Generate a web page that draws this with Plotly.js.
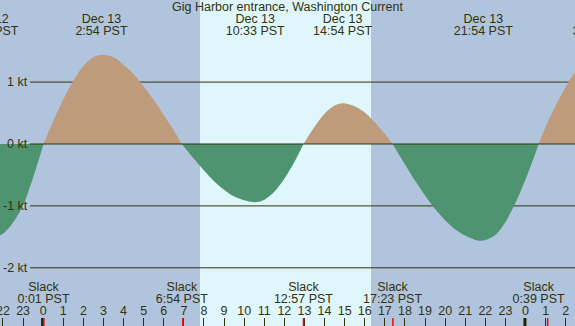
<!DOCTYPE html>
<html><head><meta charset="utf-8">
<script src="https://cdn.plot.ly/plotly-3.0.1.min.js"></script>
<style>html,body{margin:0;padding:0;background:#b0c4de;}#chart{width:575px;height:326px;}</style>
</head><body><div id="chart"></div>
<script>
// Hours relative to Dec 13 00:00 PST, current speed in knots
const hours = [-3.0,-2.5,-2.0,-1.5,-1.0,-0.5,0.017,0.5,1.0,1.5,2.0,2.5,2.9,3.5,4.0,4.5,5.0,5.5,6.0,6.5,6.9,
  7.5,8.0,8.5,9.0,9.5,10.0,10.55,11.0,11.5,12.0,12.5,12.95,13.5,14.0,14.5,14.9,15.5,16.0,16.5,17.0,17.383,
  18.0,18.5,19.0,19.5,20.0,20.5,21.0,21.5,21.9,22.5,23.0,23.5,24.0,24.5,24.65,25.0,25.5,26.0,26.5,27.0];
const knots = [-1.49,-1.50,-1.45,-1.27,-0.99,-0.54,0,0.37,0.72,1.02,1.26,1.40,1.44,1.40,1.28,1.13,0.93,0.71,0.47,0.22,0,
  -0.24,-0.43,-0.60,-0.74,-0.85,-0.91,-0.94,-0.90,-0.77,-0.56,-0.29,0,0.28,0.49,0.62,0.66,0.61,0.51,0.35,0.16,0,
  -0.33,-0.59,-0.83,-1.05,-1.23,-1.38,-1.48,-1.55,-1.56,-1.47,-1.26,-0.95,-0.57,-0.14,0,0.28,0.62,0.92,1.18,1.35];
const sunrise = 7.80, sunset = 16.31;
const maxTimes = [-2.7, 2.9, 10.55, 14.9, 21.9, 27.65];
const maxDates = ["Dec 12","Dec 13","Dec 13","Dec 13","Dec 13","Dec 14"];
const maxLabels = ["21:18 PST","2:54 PST","10:33 PST","14:54 PST","21:54 PST","3:39 PST"];
const slackTimes = [0.017, 6.9, 12.95, 17.383, 24.65];
const slackLabels = ["0:01 PST","6:54 PST","12:57 PST","17:23 PST","0:39 PST"];
const hourTicks = [-2,-1,0,1,2,3,4,5,6,7,8,9,10,11,12,13,14,15,16,17,18,19,20,21,22,23,24,25,26];
const hourLabels = ["22","23","0","1","2","3","4","5","6","7","8","9","10","11","12","13","14","15","16","17","18","19","20","21","22","23","0","1","2"];
const knotLevels = [1, 0, -1, -2];
const knotLabels = ["1 kt","0 kt","-1 kt","-2 kt"];
const redMarks = [0.03, 6.95, 12.95, 17.4, 25.1];
const midnights = [-0.03, 23.97];
const title = "Gig Harbor entrance, Washington Current";

const NIGHT='#b0c4de', DAY='#dff6fd', FLOOD='#be9c7b', EBB='#4f9470', INK='#33330a';
const FONT={family:'"Liberation Sans", Arial, sans-serif', size:12.5, color:INK};

const traces=[];
let sx=[hours[0]], sy=[knots[0]];
for(let i=1;i<hours.length;i++){
  sx.push(hours[i]); sy.push(knots[i]);
  if(knots[i]===0 || i===hours.length-1){
    const pos = sy.some(v=>v>0);
    traces.push({x:sx,y:sy,type:'scatter',mode:'lines',line:{width:0,shape:'spline',smoothing:0.8},
      fill:'tozeroy',fillcolor:pos?FLOOD:EBB,hoverinfo:'skip',showlegend:false});
    sx=[hours[i]]; sy=[knots[i]];
  }
}
function textRow(xs, texts, row){
  return {x:xs, y:xs.map(()=>row), text:texts, type:'scatter', mode:'text', yaxis:'y2',
    textposition:'middle center', textfont:FONT, hoverinfo:'skip', showlegend:false, cliponaxis:true};
}
traces.push(textRow(maxTimes, maxDates, 19.5));
traces.push(textRow(maxTimes, maxLabels, 31.4));
traces.push(textRow(slackTimes, slackTimes.map(()=> "Slack"), 287.6));
traces.push(textRow(slackTimes, slackLabels, 299.6));
traces.push(textRow(hourTicks, hourLabels, 311.6));

const shapes=[{type:'rect',xref:'x',yref:'paper',x0:sunrise,x1:sunset,y0:0,y1:1,fillcolor:DAY,line:{width:0},layer:'below'}];
knotLevels.forEach(v=>{
  shapes.push({type:'line',xref:'paper',yref:'y',x0:30/575,x1:1,y0:v,y1:v,line:{color:INK,width:1},layer:v===0?'above':'below'});
});
midnights.forEach(h=>shapes.push({type:'line',xref:'x',yref:'paper',x0:h,x1:h,y0:0,y1:8/326,line:{color:'#222200',width:3},layer:'above'}));
redMarks.forEach(h=>shapes.push({type:'line',xref:'x',yref:'paper',x0:h,x1:h,y0:0,y1:8/326,line:{color:'#ff0000',width:1.5},layer:'above'}));

const annotations=knotLevels.map((v,i)=>({xref:'paper',yref:'y',x:28.5/575,y:v,xanchor:'right',yanchor:'middle',
  text:knotLabels[i],showarrow:false,font:FONT,borderpad:0}));
annotations.push({xref:'paper',yref:'paper',x:0.5,y:1,xanchor:'center',yanchor:'top',yshift:1,text:title,showarrow:false,font:FONT,borderpad:0});

const layout={width:575,height:326,margin:{l:0,r:0,t:0,b:0},paper_bgcolor:NIGHT,plot_bgcolor:NIGHT,showlegend:false,
  xaxis:{range:[-2.149,26.46],showgrid:false,zeroline:false,showline:false,ticks:'inside',ticklen:8,tickwidth:1,
    tickcolor:INK,tickmode:'array',tickvals:hourTicks,showticklabels:false,fixedrange:true},
  yaxis:{range:[-2.94,2.326],showgrid:false,zeroline:false,showticklabels:false,ticks:'',fixedrange:true},
  yaxis2:{overlaying:'y',range:[326,0],visible:false,fixedrange:true},
  shapes:shapes, annotations:annotations, hovermode:false};
Plotly.newPlot('chart',traces,layout,{displayModeBar:false,staticPlot:true});
</script></body></html>
